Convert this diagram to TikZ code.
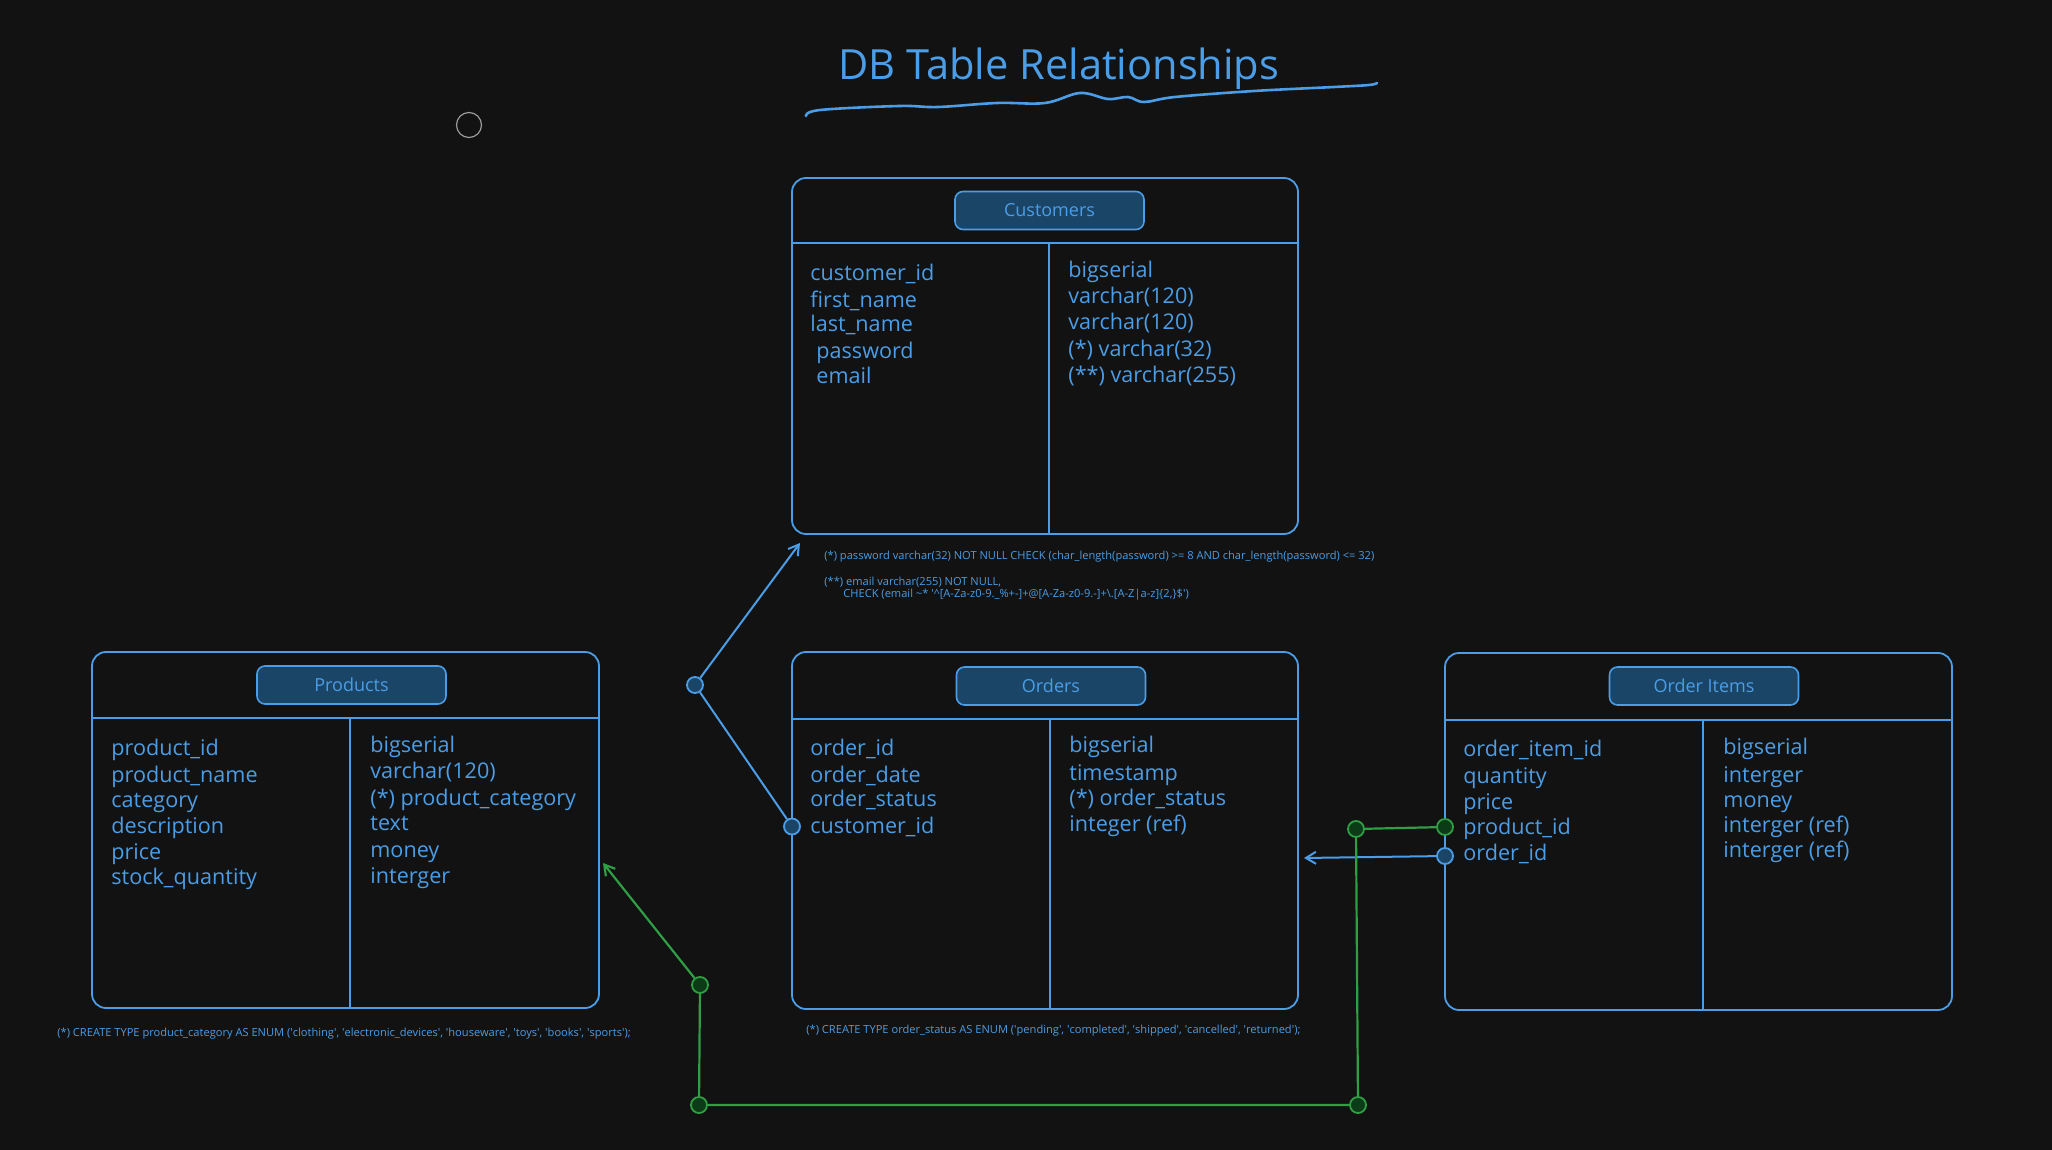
\documentclass[tikz,border=0pt]{standalone}
\usepackage{fontspec}
\setmainfont{Open Sans}
\newfontfamily\notefam{Open Sans}
\usetikzlibrary{arrows.meta,fit}
\definecolor{bg}{HTML}{121212}
\definecolor{cBlue}{HTML}{4A9DE6}
\definecolor{cPill}{HTML}{1B4566}
\definecolor{cGreen}{HTML}{2F9E44}
\definecolor{cGreenDark}{HTML}{0C3B17}
\definecolor{cGray}{HTML}{9A9A9A}
\newcommand\fldfont{\fontsize{10.8}{12}\selectfont}
\newcommand\pillfont{\fontsize{9}{11}\selectfont}
\newcommand\notefont{\notefam\fontsize{5.55}{6.5}\selectfont}
\newcommand\sq{\textquotesingle}
\begin{document}
\begin{tikzpicture}[x=0.5pt,y=-0.5pt,
  tbl/.style={draw=cBlue, line width=0.9pt, rounded corners=7pt, inner sep=0pt},
  tline/.style={draw=cBlue, line width=0.9pt},
  pill/.style={draw=cBlue, fill=cPill, line width=0.8pt, rounded corners=4pt, text=cBlue, font=\pillfont, minimum width=94.5pt, minimum height=19pt, inner sep=0pt},
  fld/.style={anchor=base west, inner sep=0pt, text=cBlue, font=\fldfont},
  note/.style={anchor=base west, inner sep=0pt, text=cBlue, font=\notefont},
  bdot/.style={circle, draw=cBlue, fill=cPill, line width=0.9pt, minimum size=8pt, inner sep=0pt},
  gdot/.style={circle, draw=cGreen, fill=cGreenDark, line width=0.9pt, minimum size=8pt, inner sep=0pt},
  bline/.style={draw=cBlue, line width=1pt},
  gline/.style={draw=cGreen, line width=1.1pt},
  tip/.style={-{Straight Barb[length=5pt,width=6pt]}}
]
\useasboundingbox (0,0) rectangle (2052,1150);
\fill[bg] (0,0) rectangle (2052,1150);

% title
\node[anchor=base west, inner sep=0pt, text=cBlue, font=\fontsize{20.8}{24}\selectfont] (title) at (838,80) {DB Table Relationships};
\draw[cBlue, line width=1.3pt, line cap=round] plot[smooth, tension=0.6] coordinates {(806,116) (820,110) (899,106) (938,107) (997,103) (1045,103) (1080,93) (1108,99) (1128,97) (1144,102) (1175,97) (1254,91) (1334,87) (1369,85) (1377,83)};

% stray circle
\node[circle, draw=cGray, line width=0.6pt, minimum size=12.5pt, inner sep=0pt] (dot) at (469,125) {};

% ---------- Customers ----------
\node[tbl, fit={(792,178) (1298,534)}] (customers) {};
\draw[tline] (792,243) -- (1298,243);
\draw[tline] (1049,243) -- (1049,534);
\node[pill] (customersT) at (1049.5,210.5) {Customers};
\foreach \t/\yy/\xx [count=\i] in {customer\_id/281, first\_name/307, last\_name/332, password/358, email/384}
  \node[fld] (cl\i) at (\ifnum\i>3 816\else 810\fi,\yy) {\t};
\foreach \t/\yy [count=\i] in {bigserial/278, varchar(120)/304, varchar(120)/330, (*) varchar(32)/357, (**) varchar(255)/383}
  \node[fld] (cr\i) at (1068,\yy) {\t};
\node[note] (cn1) at (824,559) {(*) password varchar(32) NOT NULL CHECK (char\_length(password) >= 8 AND char\_length(password) <= 32)};
\node[note] (cn2) at (824,585.5) {(**) email varchar(255) NOT NULL,};
\node[note] (cn3) at (843,597.5) {CHECK (email \textasciitilde* \sq\textasciicircum[A-Za-z0-9.\_\%+-]+@[A-Za-z0-9.-]+\textbackslash.[A-Z|a-z]\{2,\}\$\sq)};

% ---------- Products ----------
\node[tbl, fit={(92,652) (599,1008)}] (products) {};
\draw[tline] (92,718) -- (599,718);
\draw[tline] (350,718) -- (350,1008);
\node[pill] (productsT) at (351.5,685) {Products};
\foreach \t/\yy [count=\i] in {product\_id/755, product\_name/782, category/807.5, description/833, price/859, stock\_quantity/884.5}
  \node[fld] (pl\i) at (111,\yy) {\t};
\foreach \t/\yy [count=\i] in {bigserial/752.5, varchar(120)/778, (*) product\_category/805, text/830, money/857, interger/883}
  \node[fld] (pr\i) at (370,\yy) {\t};
\node[note] (pn) at (57,1036.5) {(*) CREATE TYPE product\_category AS ENUM (\sq clothing\sq, \sq electronic\_devices\sq, \sq houseware\sq, \sq toys\sq, \sq books\sq, \sq sports\sq);};

% ---------- Orders ----------
\node[tbl, fit={(792,652) (1298,1009)}] (orders) {};
\draw[tline] (792,719) -- (1298,719);
\draw[tline] (1050,719) -- (1050,1009);
\node[pill] (ordersT) at (1051,686) {Orders};
\foreach \t/\yy [count=\i] in {order\_id/755, order\_date/782, order\_status/806, customer\_id/833}
  \node[fld] (ol\i) at (810,\yy) {\t};
\foreach \t/\yy [count=\i] in {bigserial/752.5, timestamp/780, (*) order\_status/805, integer (ref)/831}
  \node[fld] (or\i) at (1069,\yy) {\t};
\node[note] (on) at (806,1033.5) {(*) CREATE TYPE order\_status AS ENUM (\sq pending\sq, \sq completed\sq, \sq shipped\sq, \sq cancelled\sq, \sq returned\sq);};

% ---------- Order Items ----------
\node[tbl, fit={(1445,653) (1952,1010)}] (items) {};
\draw[tline] (1445,720) -- (1952,720);
\draw[tline] (1703,720) -- (1703,1010);
\node[pill] (itemsT) at (1704,686) {Order Items};
\foreach \t/\yy [count=\i] in {order\_item\_id/756, quantity/783, price/809, product\_id/834, order\_id/860}
  \node[fld] (il\i) at (1463,\yy) {\t};
\foreach \t/\yy [count=\i] in {bigserial/754, interger/782, money/807.5, interger (ref)/832, interger (ref)/857}
  \node[fld] (ir\i) at (1723,\yy) {\t};

% ---------- connectors ----------
\node[bdot] (oc) at (792,826.5) {};
\node[bdot] (bj) at (695,685) {};
\coordinate (ca) at (800,543);
\draw[bline, tip] (oc) -- (bj) -- (ca);

\node[bdot] (oi) at (1445,856) {};
\coordinate (oa) at (1304,858);
\draw[bline, tip] (oi) -- (oa);

\node[gdot] (g1) at (1445,827) {};
\node[gdot] (g2) at (1356,829) {};
\node[gdot] (g3) at (1358,1105) {};
\node[gdot] (g4) at (699,1105) {};
\node[gdot] (g5) at (700,985) {};
\coordinate (pa) at (603,863);
\draw[gline, tip] (g1) -- (g2) -- (g3) -- (g4) -- (g5) -- (pa);
\end{tikzpicture}
\end{document}
